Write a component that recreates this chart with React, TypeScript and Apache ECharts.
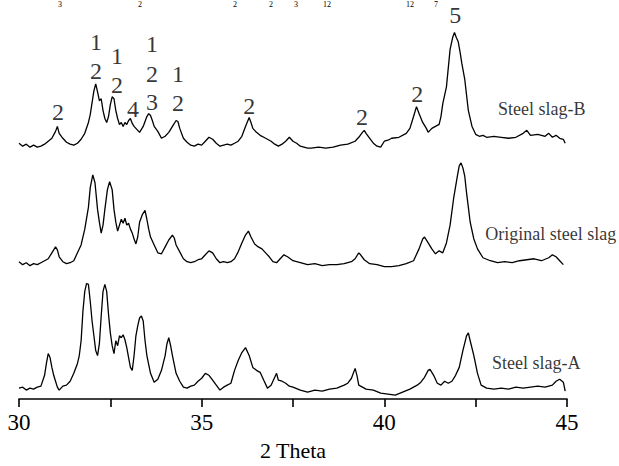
import React, { useEffect, useRef } from "react";
import * as echarts from "echarts";

// 2θ (degrees) and intensity (a.u., arbitrary offset per pattern)
const slagB: [number, number][] = [
  [30.0,145],[30.1,148],[30.2,146],[30.3,149],[30.4,147],[30.5,149],[30.6,148],[30.7,146],[30.8,143],[30.9,140],
  [31.0,133],[31.05,128],[31.1,135],[31.2,140],[31.3,144],[31.4,146],[31.5,147],[31.6,145],[31.7,141],[31.8,135],
  [31.9,124],[31.95,116],[32.0,104],[32.05,92],[32.1,85],[32.15,93],[32.2,102],[32.25,100],[32.3,112],[32.35,120],
  [32.4,124],[32.45,118],[32.5,106],[32.55,98],[32.6,100],[32.65,112],[32.7,120],[32.75,126],[32.8,124],[32.85,128],
  [32.9,124],[32.95,126],[33.0,122],[33.05,120],[33.1,125],[33.15,128],[33.2,130],[33.3,134],[33.4,128],[33.5,118],
  [33.55,115],[33.6,117],[33.65,122],[33.7,128],[33.8,133],[33.9,140],[34.0,138],[34.1,134],[34.2,128],[34.3,122],
  [34.35,123],[34.4,130],[34.5,140],[34.6,144],[34.7,147],[34.8,148],[34.9,146],[35.0,147],[35.1,143],[35.2,139],
  [35.3,141],[35.4,145],[35.5,148],[35.6,147],[35.7,146],[35.8,147],[35.9,145],[36.0,143],[36.1,138],[36.2,128],
  [36.3,119],[36.35,124],[36.4,130],[36.5,134],[36.6,137],[36.7,139],[36.8,141],[36.9,143],[37.0,146],[37.1,148],
  [37.2,146],[37.3,143],[37.4,139],[37.5,143],[37.6,145],[37.7,148],[37.8,149],[37.9,150],[38.0,150],[38.2,149],
  [38.4,150],[38.6,149],[38.8,147],[39.0,146],[39.2,143],[39.3,139],[39.4,134],[39.45,132],[39.5,135],[39.6,140],
  [39.7,145],[39.8,148],[39.9,149],[40.0,143],[40.1,142],[40.2,140],[40.4,139],[40.6,135],[40.7,130],[40.8,118],
  [40.88,108],[40.95,115],[41.05,124],[41.15,130],[41.2,134],[41.3,130],[41.4,128],[41.5,126],[41.55,118],[41.6,105],
  [41.7,88],[41.8,50],[41.87,38],[41.92,33],[41.97,38],[42.02,42],[42.07,52],[42.12,64],[42.2,80],[42.3,112],
  [42.4,128],[42.5,136],[42.6,138],[42.7,137],[42.8,139],[43.0,138],[43.2,139],[43.4,140],[43.6,139],[43.8,135],
  [43.9,132],[44.0,137],[44.2,136],[44.4,138],[44.5,135],[44.6,139],[44.7,137],[44.8,140],[44.9,141],[44.95,145],
].map(([t, y]) => [t, 404 - y]);

const original: [number, number][] = [
  [30.0,265],[30.1,268],[30.2,266],[30.3,269],[30.4,267],[30.5,268],[30.6,266],[30.7,264],[30.8,262],[30.9,256],
  [31.0,250],[31.05,253],[31.1,260],[31.2,265],[31.3,267],[31.4,266],[31.5,264],[31.6,256],[31.7,248],[31.8,232],
  [31.9,210],[31.95,190],[32.02,177],[32.08,185],[32.15,212],[32.2,225],[32.25,236],[32.3,228],[32.35,212],[32.42,192],
  [32.48,184],[32.55,192],[32.6,212],[32.65,225],[32.7,234],[32.75,228],[32.8,222],[32.85,226],[32.9,221],[32.95,228],
  [33.0,226],[33.05,232],[33.1,236],[33.15,242],[33.2,247],[33.25,240],[33.3,225],[33.38,217],[33.45,213],[33.5,222],
  [33.55,232],[33.6,240],[33.7,248],[33.8,256],[33.9,257],[34.0,250],[34.1,243],[34.2,238],[34.25,241],[34.3,248],
  [34.4,255],[34.5,262],[34.6,265],[34.7,266],[34.8,265],[34.9,263],[35.0,262],[35.1,258],[35.2,254],[35.3,256],
  [35.4,262],[35.5,266],[35.6,265],[35.7,266],[35.8,265],[35.9,262],[36.0,255],[36.1,246],[36.2,238],[36.28,234],
  [36.35,240],[36.45,247],[36.55,250],[36.65,252],[36.75,256],[36.85,260],[36.95,265],[37.05,266],[37.15,262],[37.25,258],
  [37.35,260],[37.5,264],[37.7,266],[37.9,268],[38.1,267],[38.3,269],[38.5,268],[38.7,268],[38.9,267],[39.1,265],
  [39.2,262],[39.3,256],[39.35,258],[39.45,263],[39.6,267],[39.8,268],[40.0,270],[40.2,270],[40.4,269],[40.6,267],
  [40.8,264],[40.95,252],[41.05,242],[41.1,240],[41.2,246],[41.3,252],[41.4,257],[41.5,254],[41.6,256],[41.7,246],
  [41.8,228],[41.9,200],[42.0,178],[42.05,168],[42.1,165],[42.15,170],[42.2,178],[42.25,195],[42.3,210],[42.35,225],
  [42.45,242],[42.55,252],[42.7,261],[42.9,264],[43.1,266],[43.3,265],[43.5,266],[43.7,264],[43.9,263],[44.1,262],
  [44.3,264],[44.5,261],[44.6,258],[44.7,260],[44.8,264],[44.9,268],
].map(([t, y]) => [t, 404 - y]);

const slagA: [number, number][] = [
  [30.0,393],[30.1,392],[30.2,395],[30.3,393],[30.4,394],[30.5,392],[30.6,391],[30.7,380],[30.75,368],[30.8,358],
  [30.85,362],[30.9,372],[30.95,380],[31.0,386],[31.05,392],[31.1,395],[31.2,391],[31.3,390],[31.4,386],[31.5,378],
  [31.6,368],[31.65,360],[31.7,345],[31.75,315],[31.8,295],[31.85,287],[31.9,288],[31.95,305],[32.0,325],[32.05,340],
  [32.1,355],[32.15,360],[32.2,348],[32.25,320],[32.3,295],[32.35,288],[32.4,295],[32.45,318],[32.5,337],[32.55,350],
  [32.6,358],[32.65,345],[32.7,350],[32.75,340],[32.8,342],[32.85,339],[32.9,344],[32.95,352],[33.0,362],[33.05,372],
  [33.1,375],[33.15,360],[33.2,340],[33.25,330],[33.3,322],[33.35,320],[33.4,325],[33.45,345],[33.5,360],[33.6,378],
  [33.7,387],[33.8,384],[33.9,375],[34.0,360],[34.05,348],[34.1,342],[34.15,350],[34.2,360],[34.3,378],[34.4,386],
  [34.5,392],[34.6,393],[34.7,391],[34.8,390],[34.9,386],[35.0,383],[35.1,378],[35.2,380],[35.3,385],[35.4,390],
  [35.5,395],[35.6,392],[35.7,390],[35.8,388],[35.9,375],[36.0,365],[36.1,357],[36.2,352],[36.3,360],[36.4,372],
  [36.5,375],[36.6,377],[36.7,385],[36.8,393],[36.9,390],[37.0,382],[37.05,378],[37.1,385],[37.2,386],[37.3,388],
  [37.4,391],[37.5,392],[37.7,395],[37.9,397],[38.1,395],[38.3,396],[38.5,394],[38.7,393],[38.9,390],[39.0,388],
  [39.1,383],[39.2,373],[39.25,380],[39.3,390],[39.4,392],[39.5,394],[39.7,395],[39.9,398],[40.1,399],[40.3,400],
  [40.5,397],[40.7,394],[40.9,390],[41.0,387],[41.1,382],[41.2,375],[41.25,374],[41.35,380],[41.45,388],[41.55,390],
  [41.65,386],[41.75,388],[41.85,386],[41.95,380],[42.05,372],[42.15,355],[42.25,340],[42.3,337],[42.35,345],[42.45,360],
  [42.55,378],[42.65,390],[42.8,393],[43.0,394],[43.2,393],[43.4,394],[43.6,392],[43.8,393],[44.0,392],[44.2,391],
  [44.4,392],[44.6,390],[44.7,386],[44.8,384],[44.9,387],[44.95,396],
].map(([t, y]) => [t, 404 - y]);

// phase numbers above the peaks of Steel slag-B: [2θ, height, label]
const peakMarks: [number, number, string][] = [
  [31.07, 291, "2"],
  [32.11, 361, "1"], [32.11, 332, "2"],
  [32.68, 347, "1"], [32.68, 318, "2"],
  [33.12, 294, "4"],
  [33.64, 359, "1"], [33.64, 329, "2"], [33.64, 301, "3"],
  [34.35, 329, "1"], [34.35, 300, "2"],
  [36.30, 297, "2"],
  [39.39, 286, "2"],
  [40.90, 309, "2"],
  [41.94, 389, "5"],
];

// pattern names: [2θ, height, name]
const seriesNames: [number, number, string][] = [
  [43.11, 294, "Steel slag-B"],
  [42.76, 167, "Original steel slag"],
  [42.95, 36, "Steel slag-A"],
];

const xTicks = [30, 35, 40, 45];

// remnants of the caption (subscripts) along the top edge
const captionBits: [number, string][] = [
  [60, "3"], [140, "2"], [235, "2"], [271, "2"], [296, "3"], [327, "12"], [410, "12"], [436, "7"],
];

const FONT = "'Liberation Serif', 'Times New Roman', serif";
const INK = "#000";

export default function App() {
  const ref = useRef<HTMLDivElement>(null);
  useEffect(() => {
    if (!ref.current) return;
    const chart = echarts.init(ref.current, null, { renderer: "svg" });
    const lineStyle = { color: INK, width: 1.3 };
    chart.setOption({
      animation: false,
      backgroundColor: "#fff",
      grid: { left: 19, right: 52, top: 0, bottom: 62 },
      xAxis: {
        type: "value",
        min: 30,
        max: 45,
        interval: 2.5,
        name: "2 Theta",
        nameLocation: "middle",
        nameGap: 40,
        nameTextStyle: { fontFamily: FONT, fontSize: 22, color: INK },
        axisLine: { lineStyle: { color: INK, width: 1.6 } },
        axisTick: { show: true, length: 8, lineStyle: { color: INK, width: 1.6 } },
        axisLabel: {
          margin: 12,
          fontFamily: FONT,
          fontSize: 23,
          color: INK,
          formatter: (v: number) => (xTicks.includes(v) ? String(v) : ""),
        },
        splitLine: { show: false },
      },
      yAxis: { type: "value", min: 0, max: 404, show: false },
      graphic: captionBits.map(([x, t]) => ({
        type: "text",
        x,
        y: 0,
        style: {
          text: t,
          fontFamily: FONT,
          fontSize: 8,
          fill: INK,
          align: "center",
          verticalAlign: "top",
        },
      })),
      series: [
        { type: "line", name: "Steel slag-B", data: slagB, showSymbol: false, lineStyle, silent: true },
        { type: "line", name: "Original steel slag", data: original, showSymbol: false, lineStyle, silent: true },
        { type: "line", name: "Steel slag-A", data: slagA, showSymbol: false, lineStyle, silent: true },
        {
          type: "scatter",
          data: peakMarks,
          symbolSize: 0,
          silent: true,
          label: {
            show: true,
            position: [0, 0],
            align: "center",
            verticalAlign: "middle",
            formatter: (p: any) => p.value[2],
            fontFamily: FONT,
            fontSize: 24,
            color: INK,
          },
        },
        {
          type: "scatter",
          data: seriesNames,
          symbolSize: 0,
          silent: true,
          label: {
            show: true,
            position: [0, 0],
            align: "left",
            verticalAlign: "middle",
            formatter: (p: any) => p.value[2],
            fontFamily: FONT,
            fontSize: 18,
            color: INK,
          },
        },
      ],
    });
    return () => chart.dispose();
  }, []);
  return (
    <div
      ref={ref}
      style={{ position: "fixed", left: 0, top: 0, width: 619, height: 466, background: "#fff" }}
    />
  );
}
